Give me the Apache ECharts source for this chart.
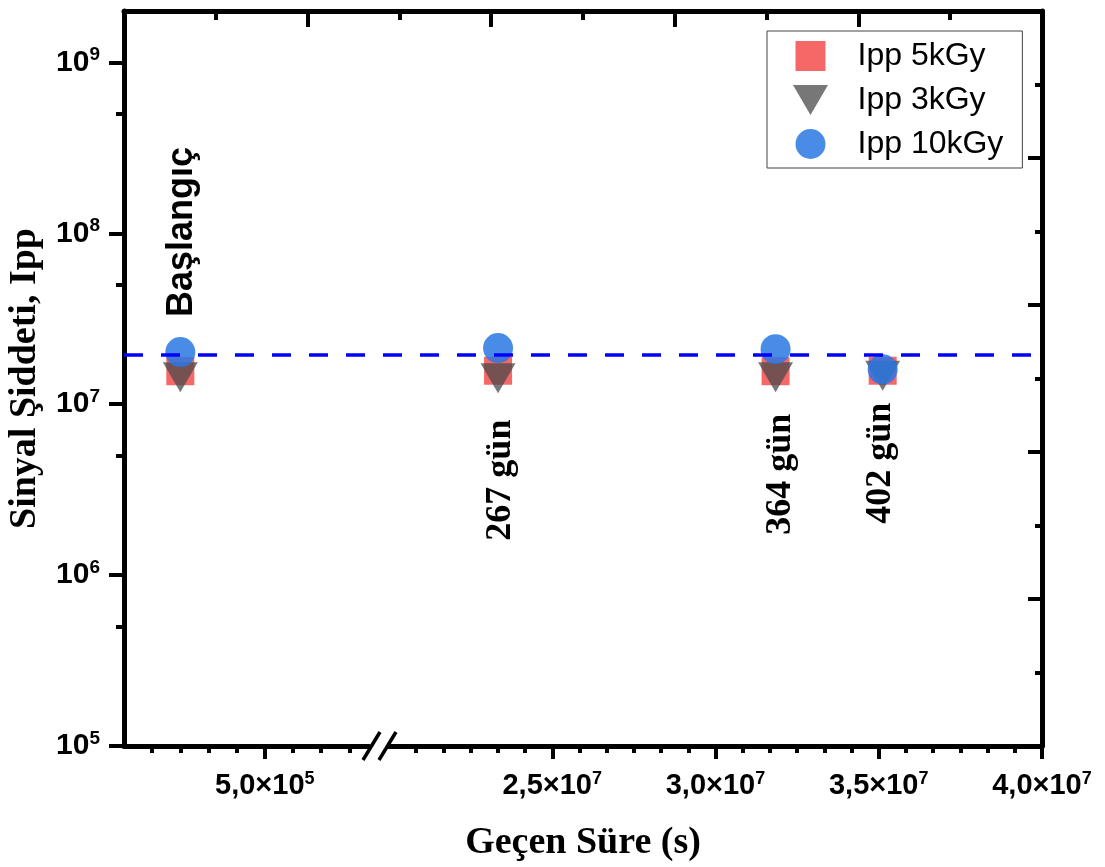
<!DOCTYPE html>
<html><head><meta charset="utf-8">
<script src="https://cdn.jsdelivr.net/npm/echarts@6/dist/echarts.min.js"></script>
<style>html,body{margin:0;padding:0;background:#fff}#c{width:1105px;height:867px}</style>
</head><body><div id="c"></div>
<script>
// ---------------- data ----------------
const seriesNames = ['Ipp 5kGy', 'Ipp 3kGy', 'Ipp 10kGy'];
const timeStart = [2.0e5];                        // s (left segment, before break)
const timeLater = [2.334e7, 3.184e7, 3.512e7];    // s (right segment, after break)
const ipp5kGy  = [1.56e7, 1.57e7, 1.56e7, 1.57e7];
const ipp3kGy  = [1.44e7, 1.42e7, 1.44e7, 1.47e7];
const ipp10kGy = [2.02e7, 2.13e7, 2.10e7, 1.60e7];
const refLevel = 1.93e7;
const annotations = ['Başlangıç', '267 gün', '364 gün', '402 gün'];
const yTickValues = [1e5, 1e6, 1e7, 1e8, 1e9];
const yMinorValues = [5e5, 5e6, 5e7, 5e8];
const xTicksLeft = [5e5];
const xMinorLeft = [1e5, 2e5, 3e5, 4e5, 6e5, 7e5, 8e5];
const xTicksRight = [2.5e7, 3.0e7, 3.5e7, 4.0e7];
const xMinorRight = [];
for (let k = 1; k < 24; k++) { if (k % 6 !== 0) xMinorRight.push(2e7 + k * 5e6 / 6); }
const frameTicks = [1, 2, 3, 4];
const frameMinor = [0.5, 1.5, 2.5, 3.5, 4.5];

// ---------------- layout / style ----------------
const annOffsets = [[2, -120], [3, 132], [5, 125], [-2, 94]];
const annStyle = [
  { fontFamily: 'Liberation Sans', fontSize: 36 },
  { fontFamily: 'Liberation Serif', fontSize: 36 },
  { fontFamily: 'Liberation Serif', fontSize: 36 },
  { fontFamily: 'Liberation Serif', fontSize: 36 }
];
const SANS = 'Liberation Sans', SERIF = 'Liberation Serif';
const richX = {
  b: { fontFamily: SANS, fontWeight: 'bold', fontSize: 29, color: '#000', lineHeight: 32 },
  s: { fontFamily: SANS, fontWeight: 'bold', fontSize: 18, color: '#000', lineHeight: 32, verticalAlign: 'top' }
};
const richY = {
  b: { fontFamily: SANS, fontWeight: 'bold', fontSize: 30, color: '#000', lineHeight: 34 },
  s: { fontFamily: SANS, fontWeight: 'bold', fontSize: 19, color: '#000', lineHeight: 34, verticalAlign: 'top' }
};
function expOf(v) { return Math.floor(Math.log10(v) + 1e-9); }
function fmtPow(v) { return '{b|10}{s|' + expOf(v) + '}'; }
function fmtSci(v) {
  const e = expOf(v); const m = v / Math.pow(10, e);
  return '{b|' + m.toFixed(1).replace('.', ',') + '×10}{s|' + e + '}';
}
const colors = ['#f66767', 'rgba(73,73,73,0.75)', 'rgba(40,120,228,0.85)'];
const symbols = ['path://M0,0L10,0L10,10L0,10Z', 'path://M0,0L35,0L17.5,30Z', 'circle'];
const sizes = [28, [35, 30], 30];
const LW = 5;
const axLine = { show: true, onZero: false, lineStyle: { color: '#000', width: LW } };
const noSplit = { show: false };
const TICKC = '#000';

const chart = echarts.init(document.getElementById('c'));

const allY = [ipp5kGy, ipp3kGy, ipp10kGy];
const series = [];
seriesNames.forEach((n, i) => {
  series.push({
    type: 'scatter', name: n, xAxisIndex: 0, yAxisIndex: 0,
    symbol: symbols[i], symbolSize: sizes[i], itemStyle: { color: colors[i], opacity: 1 },
    data: timeStart.map((t, j) => [t, allY[i][j]]), z: 3
  });
});
seriesNames.forEach((n, i) => {
  series.push({
    type: 'scatter', name: n, xAxisIndex: 2, yAxisIndex: 2,
    symbol: symbols[i], symbolSize: sizes[i], itemStyle: { color: colors[i], opacity: 1 },
    data: timeLater.map((t, j) => [t, allY[i][j + timeStart.length]]), z: 3
  });
});
series.push({
  type: 'line', xAxisIndex: 5, yAxisIndex: 4, data: [], z: 5, silent: true,
  markLine: {
    silent: true, symbol: 'none', label: { show: false },
    lineStyle: { color: '#0000ff', width: 3.5, type: [19, 18], opacity: 1 },
    data: [{ yAxis: refLevel }]
  }
});

const option = {
  animation: false,
  backgroundColor: '#fff',
  grid: [
    { left: 124, top: 11, width: 245, height: 735 },
    { left: 389, top: 11, width: 653, height: 735 },
    { left: 124, top: 11, width: 918, height: 735 },
    { left: 124, top: 11, width: 918, height: 735 }
  ],
  legend: {
    data: seriesNames, orient: 'vertical', left: 767, top: 31,
    padding: [9, 19, 8, 26], itemWidth: 84, itemHeight: 30, itemGap: 12,
    borderColor: '#444', borderWidth: 1, selectedMode: false,
    itemStyle: { opacity: 1 },
    textStyle: { fontFamily: SANS, fontSize: 32, color: '#000' }
  },
  xAxis: [
    { // 0 left segment majors
      type: 'value', gridIndex: 0, position: 'bottom', min: 0, max: 8.7e5,
      axisLine: axLine, splitLine: noSplit,
      axisTick: { show: true, customValues: xTicksLeft, length: 13, lineStyle: { color: '#000', width: 4 } },
      axisLabel: { customValues: xTicksLeft, formatter: fmtSci, rich: richX, margin: 24 }
    },
    { // 1 left segment minors
      type: 'value', gridIndex: 0, position: 'bottom', min: 0, max: 8.7e5,
      axisLine: { show: false }, splitLine: noSplit, axisLabel: { show: false },
      axisTick: { show: true, customValues: xMinorLeft, length: 7, lineStyle: { color: '#000', width: 4 } }
    },
    { // 2 right segment majors
      type: 'value', gridIndex: 1, position: 'bottom', min: 2e7, max: 4e7,
      axisLine: axLine, splitLine: noSplit,
      axisTick: { show: true, customValues: xTicksRight, length: 13, lineStyle: { color: '#000', width: 4 } },
      axisLabel: { customValues: xTicksRight, formatter: fmtSci, rich: richX, margin: 24 }
    },
    { // 3 right segment minors
      type: 'value', gridIndex: 1, position: 'bottom', min: 2e7, max: 4e7,
      axisLine: { show: false }, splitLine: noSplit, axisLabel: { show: false },
      axisTick: { show: true, customValues: xMinorRight, length: 7, lineStyle: { color: '#000', width: 4 } }
    },
    { // 4 top frame line + major ticks
      type: 'value', gridIndex: 2, position: 'top', min: 0, max: 5,
      axisLine: axLine, splitLine: noSplit, axisLabel: { show: false },
      axisTick: { show: true, inside: true, customValues: frameTicks, length: 16, lineStyle: { color: TICKC, width: 4 } }
    },
    { // 5 axis title holder
      type: 'value', gridIndex: 3, position: 'bottom', min: 0, max: 5,
      axisLine: { show: false }, axisTick: { show: false }, axisLabel: { show: false }, splitLine: noSplit,
      name: 'Geçen Süre (s)', nameLocation: 'middle', nameGap: 80,
      nameTextStyle: { fontFamily: SERIF, fontWeight: 'bold', fontSize: 38, color: '#000' }
    },
    { // 6 top frame minor ticks
      type: 'value', gridIndex: 3, position: 'top', min: 0, max: 5,
      axisLine: { show: false }, splitLine: noSplit, axisLabel: { show: false },
      axisTick: { show: true, inside: true, customValues: frameMinor, length: 9, lineStyle: { color: TICKC, width: 4 } }
    }
  ],
  yAxis: [
    { // 0 main log axis
      type: 'log', logBase: 10, gridIndex: 0, position: 'left', min: 1e5, max: 2e9,
      axisLine: axLine, splitLine: noSplit, minorTick: { show: false },
      axisTick: { show: true, customValues: yTickValues, length: 15, lineStyle: { color: '#000', width: 4 } },
      axisLabel: { customValues: yTickValues, formatter: fmtPow, rich: richY, margin: 24 },
      name: 'Sinyal Şiddeti, Ipp', nameLocation: 'middle', nameGap: 80, nameRotate: 90,
      nameTextStyle: { fontFamily: SERIF, fontWeight: 'bold', fontSize: 38, color: '#000' }
    },
    { // 1 minor ticks of log axis
      type: 'log', logBase: 10, gridIndex: 0, position: 'left', min: 1e5, max: 2e9,
      axisLine: { show: false }, splitLine: noSplit, axisLabel: { show: false },
      axisTick: { show: true, customValues: yMinorValues, length: 8, lineStyle: { color: '#000', width: 4 } }
    },
    { // 2 log axis for right segment (hidden)
      type: 'log', logBase: 10, gridIndex: 1, min: 1e5, max: 2e9, show: false
    },
    { // 3 right frame axis
      type: 'value', gridIndex: 2, position: 'right', min: 0, max: 5, interval: 1,
      axisLine: axLine, splitLine: noSplit, axisLabel: { show: false },
      axisTick: { show: true, inside: true, length: 14, lineStyle: { color: '#000', width: 4 } },
      minorTick: { show: true, splitNumber: 2, length: 7, lineStyle: { color: '#000', width: 4 } }
    },
    { // 4 log axis for reference line (hidden)
      type: 'log', logBase: 10, gridIndex: 3, min: 1e5, max: 2e9, show: false
    }
  ],
  series: series
};
chart.setOption(option);

// axis break marks and rotated annotations (positions from the library's scales)
const graphics = [
  { type: 'line', shape: { x1: 363, y1: 760, x2: 380, y2: 732 }, style: { stroke: '#000', lineWidth: 3.5 }, z: 10 },
  { type: 'line', shape: { x1: 379, y1: 760, x2: 396, y2: 732 }, style: { stroke: '#000', lineWidth: 3.5 }, z: 10 }
];
const anchorPts = [];
timeStart.forEach((t, j) => anchorPts.push(chart.convertToPixel({ seriesIndex: 2 }, [t, ipp10kGy[j]])));
timeLater.forEach((t, j) => anchorPts.push(chart.convertToPixel({ seriesIndex: 5 }, [t, ipp10kGy[j + timeStart.length]])));
annotations.forEach((txt, i) => {
  const p = anchorPts[i];
  graphics.push({
    type: 'text', x: p[0] + annOffsets[i][0], y: p[1] + annOffsets[i][1], rotation: Math.PI / 2, z: 10,
    style: { text: txt, fontFamily: annStyle[i].fontFamily, fontSize: annStyle[i].fontSize, fontWeight: 'bold',
             fill: '#000', align: 'center', verticalAlign: 'middle' }
  });
});
chart.setOption({ graphic: graphics });
</script>
</body></html>
